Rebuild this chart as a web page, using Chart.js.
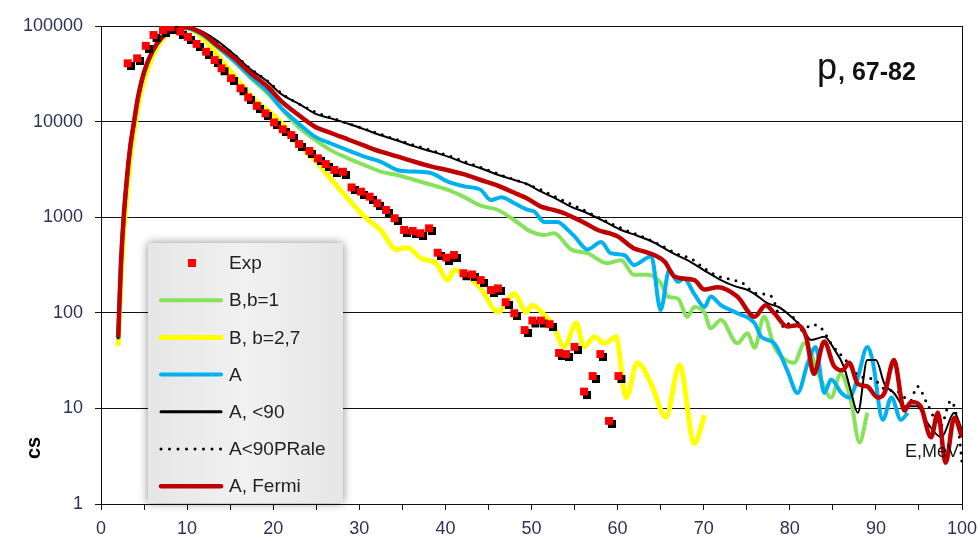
<!DOCTYPE html>
<html>
<head>
<meta charset="utf-8">
<title>p, 67-82</title>
<script src="https://cdn.jsdelivr.net/npm/chart.js@4.4.1/dist/chart.umd.min.js"></script>
<style>
  html, body { margin: 0; padding: 0; background: #fff; }
  #wrap { width: 980px; height: 541px; position: relative; }
</style>
</head>
<body>
<div id="wrap"><canvas id="spectrum"></canvas></div>
<script>
'use strict';

/* Axis ticks */
const xTicks = [0, 10, 20, 30, 40, 50, 60, 70, 80, 90, 100];
const xMinorTicks = [0, 5, 10, 15, 20, 25, 30, 35, 40, 45, 50, 55, 60, 65, 70, 75, 80, 85, 90, 95, 100];
const yTicks = [1, 10, 100, 1000, 10000, 100000];

/* Exp */
const eExp = [3.1, 4.2, 5.2, 6.1, 7.2, 8.1, 9.2, 10.1, 11.1, 12.2, 13.2, 14.0, 15.1, 16.2, 17.1, 18.1, 19.1, 20.1, 21.1, 22.1,
  23.0, 24.2, 25.2, 26.1, 27.1, 28.1, 29.1, 30.2, 31.2, 32.1, 33.1, 34.1, 35.2, 36.2, 37.1, 38.1, 39.1, 40.1, 41.0, 42.1,
  43.1, 44.1, 45.3, 46.1, 47.0, 48.0, 49.2, 50.1, 51.1, 52.1, 53.2, 54.0, 55.0, 56.1, 57.1, 58.0, 59.0, 60.1];
const csExp = [40700, 45900, 62000, 80500, 90800, 96800, 87500, 77000, 65000, 53800, 44000, 36100, 28400, 22300, 17900, 14600, 12200, 9800, 8300, 7230,
  5830, 4930, 4130, 3600, 3120, 2990, 2050, 1850, 1640, 1400, 1190, 975, 735, 718, 680, 765, 425, 378, 403, 259,
  252, 220, 173, 180, 129, 99, 66, 83, 83, 76, 38, 37, 44, 15, 21.8, 37, 7.4, 21.8];

/* B,b=1 */
const eBb1 = [2, 2.3, 2.6, 3, 3.4, 3.8, 4.3, 5, 6, 7, 8, 9, 10, 11, 12, 13.5, 15.5, 17.4, 19.4, 20.9,
  22.8, 24.8, 26.7, 28.7, 30.6, 32.5, 34.5, 36.4, 38.3, 40.3, 42.2, 44.1, 46.1, 48, 49.9, 51.5, 52.6, 54.6, 56.5, 58.8,
  60.4, 61.9, 63.5, 65, 65.8, 67, 68.1, 68.9, 70.1, 70.8, 72, 73.9, 75.1, 75.9, 77, 78.2, 79, 80.5, 81.7, 83.6,
  84.8, 85.9, 87.1, 88.1, 89];
const csBb1 = [52, 280, 860, 2350, 5200, 9100, 17300, 32000, 54000, 74000, 87000, 93500, 94500, 88000, 78000, 60000, 42000, 28500, 19500, 13800,
  9000, 6500, 5000, 4130, 3500, 3000, 2750, 2450, 2190, 1930, 1620, 1320, 1190, 930, 710, 650, 680, 460, 420, 330,
  355, 250, 250, 205, 148, 141, 91, 115, 100, 69, 84, 48, 61, 43, 91, 44, 35, 30, 48, 20,
  13, 23, 12, 4.4, 9];

/* B, b=2,7 */
const eBb27 = [2, 2.3, 2.6, 3, 3.4, 3.8, 4.3, 5, 6, 7, 8, 9, 10, 11, 12, 13.5, 15.5, 17.4, 19.4, 20.9,
  22.8, 24.8, 26.7, 28.7, 30.6, 32.5, 34.3, 35.6, 37.2, 38.9, 40.3, 41, 42.6, 44.1, 46.1, 48, 49.4, 50.1, 51.3, 52.5,
  53.8, 55.2, 56.1, 57.3, 58.5, 59.8, 61, 62.3, 63.9, 65.6, 67.2, 68.9, 70.1];
const csBb27 = [45, 200, 620, 1700, 3900, 7300, 14000, 27000, 48000, 70000, 86000, 95000, 96000, 87000, 72000, 50000, 30000, 18500, 13000, 9800,
  5900, 4000, 2500, 1550, 1010, 730, 460, 480, 370, 330, 220, 280, 240, 180, 102, 158, 102, 120, 99, 74,
  44, 78, 44, 56, 48, 56, 13, 30, 18, 8.1, 28.5, 4.3, 8.5];

/* A */
const eA = [2, 2.3, 2.6, 3, 3.4, 3.8, 4.3, 5, 6, 7, 8, 9, 10, 11, 12, 13.5, 15.5, 17.4, 19.4, 20.9,
  22.8, 24.8, 26.7, 28.7, 30.6, 32.5, 34.5, 36.4, 38.3, 40.3, 42.2, 44.1, 45.3, 46.5, 48, 49.6, 50.3, 51.5, 53, 54.2,
  55, 56.5, 58.1, 59.2, 60.8, 61.9, 63.9, 65, 66, 67, 67.7, 68.9, 70.1, 70.8, 72, 73.9, 75.9, 76.7, 78.2, 79.7,
  80.9, 82.1, 83, 84, 84.8, 86, 86.9, 87.9, 89, 89.6, 90.8, 91.8, 92.9, 93.7];
const csA = [55, 300, 900, 2450, 5400, 9400, 17800, 32500, 54500, 74500, 87500, 94000, 95000, 89000, 79000, 61000, 43000, 29500, 20500, 14000,
  9800, 7000, 5900, 5000, 4300, 3800, 3100, 3000, 2900, 2350, 2100, 1930, 1510, 1620, 1400, 1190, 1150, 890, 890, 740,
  630, 460, 550, 420, 400, 316, 390, 107, 282, 211, 229, 158, 115, 148, 120, 99, 78, 56, 48, 25,
  14.5, 30, 44, 14.5, 20, 14.5, 13, 21, 44, 32, 7.6, 13, 7.6, 9];

/* A, <90 */
const eA90 = [2, 2.3, 2.6, 3, 3.4, 3.8, 4.3, 5, 6, 7, 8, 9, 10, 11, 12, 13.5, 15.5, 17.4, 19.4, 20.9,
  23.2, 24.8, 26.7, 28.7, 30.6, 32.5, 34.5, 36.4, 38.3, 40.3, 42.2, 44.1, 46, 48, 49.6, 50.6, 52.6, 54.5, 56.5, 58.5,
  60.4, 62.3, 64.3, 66.2, 68.1, 70, 72, 73.6, 75, 75.9, 77.4, 78.7, 79.7, 81.3, 82.5, 84, 85.2, 86.3, 87.1, 87.9,
  89, 90, 91, 92.1, 93.3, 94.8, 96, 97.6, 99.1, 100];
const csA90 = [55, 290, 880, 2400, 5300, 9300, 17500, 32000, 54000, 74000, 88000, 95000, 97000, 93000, 85000, 70000, 50000, 35000, 26000, 19500,
  15000, 12200, 10800, 9500, 8300, 7200, 6300, 5500, 4900, 4300, 3700, 3250, 2800, 2450, 2200, 1950, 1600, 1300, 1100, 900,
  735, 640, 540, 430, 355, 280, 220, 190, 175, 158, 126, 115, 99, 72, 52, 56, 41, 27, 15, 9,
  32, 32, 18, 14.5, 10.5, 10.5, 7, 5, 9, 5.9];

/* A<90PRale */
const ePRale = [2, 2.6, 3, 3.8, 5, 6, 7, 8, 9, 10, 11, 12, 13.5, 15.5, 17.4, 19.4, 21, 23, 25, 27,
  29, 31, 33, 35, 37, 39, 41, 43, 45, 47, 49, 51, 53, 55, 57, 59, 61, 63, 65, 67,
  68.5, 70, 71.5, 73, 74.5, 76, 77.8, 79.4, 80.5, 81.5, 82.5, 83.6, 85, 86.5, 88, 89.8, 91, 92.5, 94, 94.8,
  96, 97.5, 98.7, 99.5, 100];
const csPRale = [55, 900, 2400, 9300, 32000, 54000, 74000, 88000, 95000, 97000, 92000, 84000, 69000, 50000, 35500, 26300, 19600, 15300, 12500, 10800,
  9350, 8150, 7100, 6200, 5450, 4800, 4200, 3600, 3100, 2650, 2300, 1950, 1600, 1320, 1080, 880, 730, 620, 510, 410,
  370, 295, 245, 225, 205, 160, 150, 70, 90, 65, 75, 70, 45, 32, 22, 20, 16, 15, 12, 17,
  11, 6.5, 12, 7, 2.7];

/* A, Fermi */
const eFermi = [2, 2.3, 2.6, 3, 3.4, 3.8, 4.3, 5, 6, 7, 8, 9, 10, 11, 12, 13.5, 15.5, 17.4, 19.4, 20.9,
  22.8, 24.8, 26.7, 28.7, 30.6, 32.5, 34.5, 36.4, 38.3, 40.3, 42.2, 44.1, 46, 48, 49.6, 51.1, 52.6, 53.8, 55, 56.4,
  57.7, 59, 60, 61.9, 63, 64.3, 65.5, 66.6, 68.9, 70.1, 71.6, 73.9, 75.9, 77.2, 78.2, 79.7, 80.9, 81.9, 82.8, 84,
  85.1, 86.1, 86.9, 87.9, 89, 90.2, 91, 92.1, 93.3, 94.1, 95.2, 96.4, 97.2, 98.1, 99.1, 100];
const csFermi = [55, 300, 900, 2500, 5500, 9500, 18000, 33000, 55000, 75000, 88000, 95000, 97000, 91000, 81000, 63000, 46000, 32000, 23000, 16500,
  12000, 8900, 7600, 6500, 5600, 4850, 4300, 3800, 3400, 3100, 2800, 2450, 2150, 1800, 1550, 1290, 1190, 1100, 980, 850,
  735, 680, 630, 470, 440, 400, 340, 240, 220, 175, 185, 148, 91, 120, 99, 72, 74, 56, 23, 50,
  28, 25, 30, 18, 17, 13, 14.5, 32, 9.5, 11.7, 10.5, 5, 9, 2.7, 8, 5];

const FONT = "'Liberation Sans', Arial, sans-serif";
const TICK_COLOR = '#30305a';

function pts(xs, ys) {
  return xs.map((x, i) => ({ x: x, y: ys[i] }));
}

function curve(label, xs, ys, color, width, order, extra) {
  return Object.assign({
    label: label,
    data: pts(xs, ys),
    borderColor: color,
    backgroundColor: color,
    borderWidth: width,
    pointRadius: 0,
    cubicInterpolationMode: 'monotone',
    fill: false,
    order: order,
  }, extra || {});
}

const datasets = [
  {
    label: 'Exp',
    data: pts(eExp, csExp),
    showLine: false,
    pointStyle: 'rect',
    pointRadius: 5.6,
    pointBorderWidth: 0,
    backgroundColor: '#ff0000',
    borderColor: '#ff0000',
    order: 0,
    shadow: true,
  },
  curve('B,b=1', eBb1, csBb1, '#86e25a', 4, 5),
  curve('B, b=2,7', eBb27, csBb27, '#ffff00', 5, 6),
  curve('A', eA, csA, '#00b0f0', 4, 4),
  curve('A, <90', eA90, csA90, '#000000', 2, 3),
  curve('A<90PRale', ePRale, csPRale, '#000000', 3, 2, { borderDash: [0, 8], borderCapStyle: 'round' }),
  curve('A, Fermi', eFermi, csFermi, '#c00000', 4.5, 1),
];

/* Dark drop shadow under the Exp squares */
const markerShadow = {
  id: 'markerShadow',
  beforeDatasetDraw(chart, args) {
    if (!chart.data.datasets[args.index].shadow) return;
    const ctx = chart.ctx;
    ctx.save();
    ctx.shadowColor = '#000';
    ctx.shadowOffsetX = 3;
    ctx.shadowOffsetY = 3;
    ctx.shadowBlur = 0.5;
  },
  afterDatasetDraw(chart, args) {
    if (!chart.data.datasets[args.index].shadow) return;
    chart.ctx.restore();
  }
};

/* Frame, captions and the boxed legend */
const decorations = {
  id: 'decorations',
  afterDatasetsDraw(chart) {
    const ctx = chart.ctx;
    const a = chart.chartArea;

    ctx.save();
    ctx.strokeStyle = '#111';
    ctx.lineWidth = 1;
    ctx.beginPath();
    ctx.moveTo(Math.round(a.right) + 0.5, a.top);
    ctx.lineTo(Math.round(a.right) + 0.5, a.bottom);
    ctx.stroke();
    ctx.restore();

    // axis caption inside the plot, cut by the right edge
    ctx.save();
    ctx.beginPath();
    ctx.rect(a.left, a.top, a.right - a.left, a.bottom - a.top);
    ctx.clip();
    ctx.fillStyle = '#1a1a1a';
    ctx.font = '18px ' + FONT;
    ctx.textBaseline = 'alphabetic';
    ctx.fillText('E,MeV', 905, 457);
    ctx.restore();

    // title
    ctx.save();
    ctx.fillStyle = '#111';
    ctx.textBaseline = 'alphabetic';
    ctx.font = '36px ' + FONT;
    ctx.fillText('p', 817, 79);
    const pw = ctx.measureText('p').width;
    ctx.font = 'bold 25px ' + FONT;
    ctx.fillText(', 67-82', 817 + pw + 1, 80);
    ctx.restore();

    // y caption
    ctx.save();
    ctx.translate(34, 448);
    ctx.rotate(-Math.PI / 2);
    ctx.fillStyle = '#000';
    ctx.font = 'bold 20px ' + FONT;
    ctx.textAlign = 'center';
    ctx.textBaseline = 'middle';
    ctx.fillText('cs', 0, 0);
    ctx.restore();

    // legend box
    const bx = 148, by = 243, bw = 195, bh = a.bottom - by - 1;
    ctx.save();
    ctx.shadowColor = 'rgba(0,0,0,0.45)';
    ctx.shadowBlur = 9;
    const grad = ctx.createLinearGradient(bx, 0, bx + bw, 0);
    grad.addColorStop(0, '#e6e6e6');
    grad.addColorStop(0.5, '#f1f1f1');
    grad.addColorStop(1, '#e6e6e6');
    ctx.fillStyle = grad;
    ctx.fillRect(bx, by, bw, bh);
    ctx.restore();

    ctx.save();
    ctx.font = '19px ' + FONT;
    ctx.textBaseline = 'middle';
    chart.data.datasets.forEach((ds, i) => {
      const y = 263 + i * 37.2;
      if (ds.showLine === false) {
        ctx.fillStyle = ds.backgroundColor;
        ctx.fillRect(188, y - 4, 8, 8);
      } else {
        ctx.strokeStyle = ds.borderColor;
        ctx.lineWidth = ds.borderDash ? 3 : Math.max(ds.borderWidth, 3);
        ctx.lineCap = 'round';
        ctx.setLineDash(ds.borderDash ? [0, 8.5] : []);
        ctx.beginPath();
        ctx.moveTo(161, y);
        ctx.lineTo(221, y);
        ctx.stroke();
        ctx.setLineDash([]);
      }
      ctx.fillStyle = '#222';
      ctx.fillText(ds.label, 229, y + 1);
    });
    ctx.restore();
  }
};

const ctx = document.getElementById('spectrum').getContext('2d');

new Chart(ctx, {
  type: 'line',
  data: { datasets: datasets },
  options: {
    responsive: true,
    maintainAspectRatio: false,
    animation: false,
    layout: { padding: { top: 26, right: 18, left: 0, bottom: 0 } },
    plugins: {
      legend: { display: false },
      tooltip: { enabled: false },
    },
    scales: {
      x: {
        type: 'linear',
        min: 0,
        max: 100,
        afterBuildTicks(scale) {
          scale.ticks = xMinorTicks.map(v => ({ value: v }));
        },
        afterFit(scale) {
          scale.height = 37;
          // the "100" label may spill into the right margin
          scale.paddingLeft = 0;
          scale.paddingRight = 0;
        },
        ticks: {
          autoSkip: false,
          maxRotation: 0,
          padding: 8,
          color: TICK_COLOR,
          font: { family: FONT, size: 18 },
          callback: v => (xTicks.includes(v) ? String(v) : ''),
        },
        grid: { drawOnChartArea: false, drawTicks: true, tickLength: 6, color: '#111' },
        border: { display: true, color: '#111', width: 1 },
      },
      y: {
        type: 'logarithmic',
        min: 1,
        max: 100000,
        afterBuildTicks(scale) {
          scale.ticks = yTicks.map(v => ({ value: v }));
        },
        afterFit(scale) {
          scale.width = 101;
          scale.paddingTop = 0;
          scale.paddingBottom = 0;
        },
        ticks: {
          padding: 12,
          color: TICK_COLOR,
          font: { family: FONT, size: 18 },
          callback: v => String(v),
        },
        grid: { color: '#111', lineWidth: 1, tickLength: 6 },
        border: { display: true, color: '#111', width: 1 },
      },
    },
  },
  plugins: [markerShadow, decorations],
});
</script>
</body>
</html>
